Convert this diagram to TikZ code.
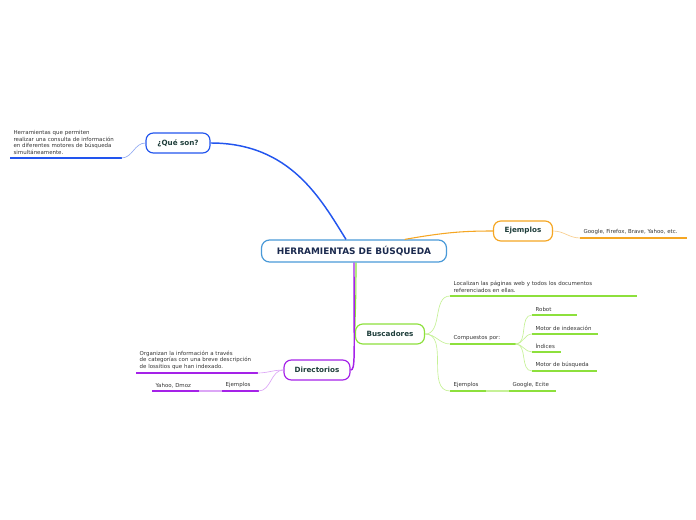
\documentclass[tikz,border=0pt]{standalone}
\usepackage{fontspec}
\setmainfont{DejaVu Sans}
\usetikzlibrary{positioning}

\definecolor{rootline}{HTML}{4A9AD8}
\definecolor{roottext}{HTML}{1B2A4E}
\definecolor{topictext}{HTML}{1E3D3A}
\definecolor{leaftext}{HTML}{333333}
\definecolor{qblue}{HTML}{2255EE}
\definecolor{qpale}{HTML}{93ABF2}
\definecolor{ejorange}{HTML}{F5A623}
\definecolor{ejpale}{HTML}{F8CE8E}
\definecolor{bgreen}{HTML}{8DE03C}
\definecolor{bpale}{HTML}{C6F197}
\definecolor{dpurple}{HTML}{A522E8}
\definecolor{dpale}{HTML}{DCA6F6}

\tikzset{
  root/.style={draw=rootline, line width=0.9pt, rounded corners=6pt, fill=white,
    minimum width=138.75pt, minimum height=16.5pt, inner sep=0pt,
    text=roottext, font=\fontsize{6.7}{7}\selectfont\bfseries},
  topic/.style={draw=#1, line width=0.9pt, rounded corners=5.5pt, fill=white,
    minimum height=15pt, inner sep=0pt,
    text=topictext, font=\fontsize{5.4}{6}\selectfont\bfseries},
  leaf/.style={anchor=south west, inner xsep=2.5pt, inner ysep=2.2pt,
    text width=#1, align=left, text=leaftext,
    font=\fontsize{4.1}{5.1}\selectfont},
  uline/.style={line width=1.4pt, #1},
  link/.style={line width=0.5pt, #1}
}

\begin{document}
\begin{tikzpicture}[x=0.75pt, y=-0.75pt]
\useasboundingbox (0,0) rectangle (696,520);

% main nodes
\node[root] (root) at (354,251) {HERRAMIENTAS DE BÚSQUEDA};
\node[topic=qblue, minimum width=48pt] (que) at (178,143) {¿Qué son?};
\node[topic=ejorange, minimum width=44.25pt] (ej) at (523,231) {Ejemplos};
\node[topic=bgreen, minimum width=51.75pt] (busc) at (390,334) {Buscadores};
\node[topic=dpurple, minimum width=49.5pt] (dir) at (317,370) {Directorios};

% branches from the root
\draw[qblue, line width=1.1pt] ([xshift=-6pt]root.north) .. controls +(-25,-40) and +(80,0) .. (que.east);
\draw[ejorange, line width=0.8pt] ([xshift=38pt]root.north) .. controls +(40,-7) and +(-30,0) .. (ej.west);
\draw[bgreen, line width=0.8pt] ([xshift=1.5pt]root.south) .. controls +(0,50) and +(0,-20) .. (busc.west);
\draw[dpurple, line width=1.1pt] (root.south) .. controls +(0,95) and +(5,0) .. (dir.east);

% ¿Qué son?
\node[leaf=78.25pt] (queTxt) at (10,158) {Herramientas que permiten\\realizar una consulta de información\\en diferentes motores de búsqueda\\simultáneamente.};
\draw[uline=qblue] (queTxt.south west) -- (queTxt.south east);
\draw[link=qpale] (queTxt.south east) to[out=0,in=180] (que.west);

% Ejemplos
\node[leaf=74.5pt] (ejTxt) at (580,238) {Google, Firefox, Brave, Yahoo, etc.};
\draw[uline=ejorange] (ejTxt.south west) -- (ejTxt.south east);
\draw[link=ejpale] (ej.east) to[out=0,in=180] (ejTxt.south west);

% Buscadores
\node[leaf=134.5pt] (bLoc) at (450,296) {Localizan las páginas web y todos los documentos\\referenciados en ellas.};
\node[leaf=43.75pt] (bComp) at (450,344) {Compuestos por:};
\node[leaf=21.25pt] (bEj) at (450,391) {Ejemplos};
\node[leaf=29.5pt] (bGo) at (509,391) {Google, Ecite};
\foreach \n in {bLoc,bComp,bEj,bGo}
  \draw[uline=bgreen] (\n.south west) -- (\n.south east);
\foreach \n in {bLoc,bComp,bEj}
  \draw[link=bpale] (busc.east) to[out=0,in=180] (\n.south west);
\draw[uline=bpale] (bEj.south east) -- (bGo.south west);

% Compuestos por
\node[leaf=28pt] (cRob) at (532,315) {Robot};
\node[leaf=43.75pt] (cIdx) at (532,334) {Motor de indexación};
\node[leaf=16pt] (cInd) at (532,352) {Índices};
\node[leaf=43pt] (cMot) at (532,371) {Motor de búsqueda};
\foreach \n in {cRob,cIdx,cInd,cMot}{
  \draw[uline=bgreen] (\n.south west) -- (\n.south east);
  \draw[link=bpale] (bComp.south east) to[out=0,in=180] (\n.south west);
}

% Directorios
\node[leaf=85.75pt] (dirTxt) at (136,373) {Organizan la información a través\\de categorías con una breve descripción\\de lossitios que han indexado.};
\node[leaf=22pt] (dirEj) at (222,391) {Ejemplos};
\node[leaf=29.5pt] (dirYa) at (152,391) {Yahoo, Dmoz};
\foreach \n in {dirTxt,dirEj,dirYa}
  \draw[uline=dpurple] (\n.south west) -- (\n.south east);
\draw[link=dpale] (dir.west) to[out=180,in=0] (dirTxt.south east);
\draw[link=dpale] (dir.west) to[out=180,in=0] (dirEj.south east);
\draw[uline=dpale] (dirEj.south west) -- (dirYa.south east);
\end{tikzpicture}
\end{document}
